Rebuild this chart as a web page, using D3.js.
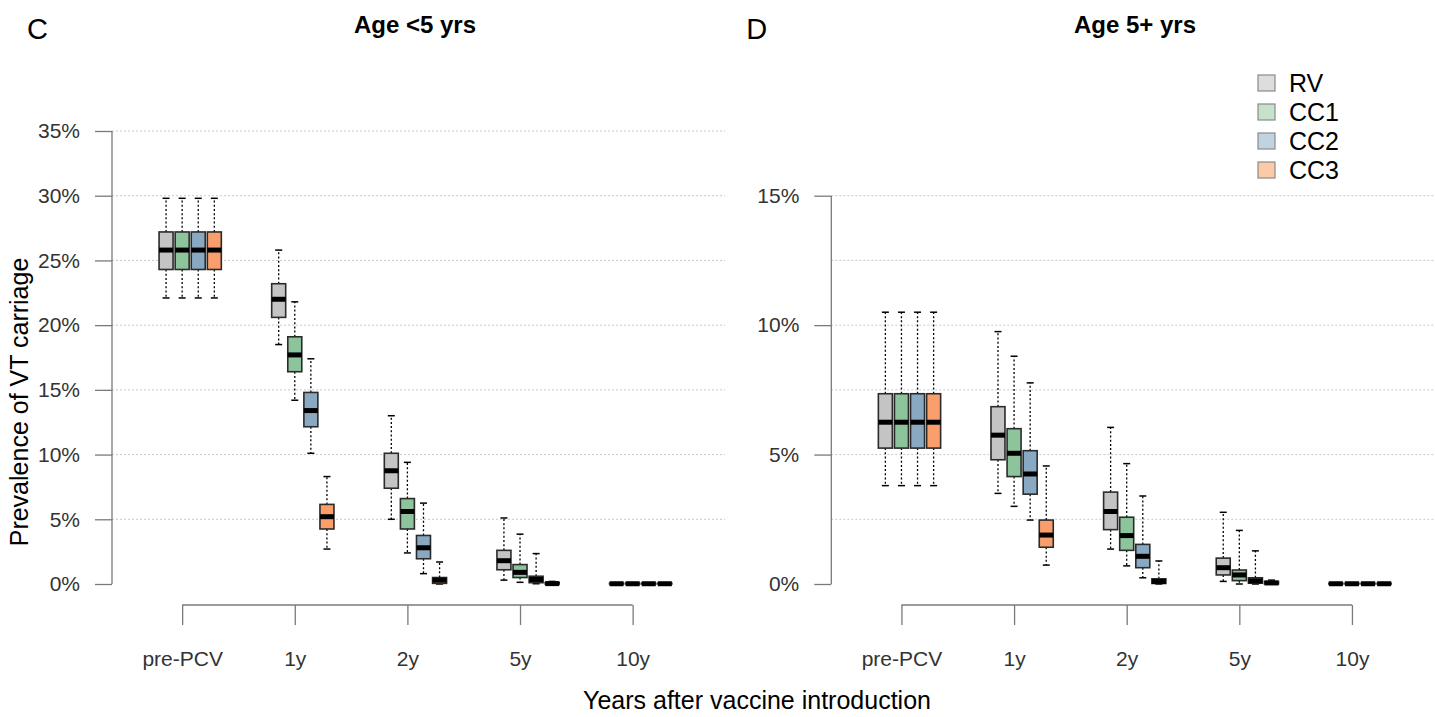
<!DOCTYPE html>
<html>
<head>
<meta charset="utf-8">
<script src="https://cdn.jsdelivr.net/npm/d3@7"></script>
<style>
    body { margin: 0; background: #fff; }
    svg { display: block; font-family: "Liberation Sans", Arial, sans-serif; }
</style>
</head>
<body>
<div id="chart"></div>
<script>
// categories
var groups = ["pre-PCV", "1y", "2y", "5y", "10y"];
var series = ["RV", "CC1", "CC2", "CC3"];
var boxFill = ["#c4c4c4", "#8dc49b", "#89a9c2", "#fa9f6b"];
var legendFill = ["#dddddd", "#c6e2cc", "#c0d3e0", "#fdcaa8"];

// five-number summaries per group: [whisker low, q1, median, q3, whisker high], in %
// Age <5 yrs
var u5RV  = [[22.1, 24.3, 25.8, 27.2, 29.8], [18.5, 20.6, 22.0, 23.2, 25.8], [5.0, 7.4, 8.75, 10.1, 13.0], [0.3, 1.1, 1.8, 2.6, 5.1], [0, 0, 0.02, 0.06, 0.1]];
var u5CC1 = [[22.1, 24.3, 25.8, 27.2, 29.8], [14.2, 16.4, 17.7, 19.1, 21.8], [2.4, 4.25, 5.6, 6.6, 9.4], [0.13, 0.5, 0.9, 1.5, 3.85], [0, 0, 0.02, 0.06, 0.1]];
var u5CC2 = [[22.1, 24.3, 25.8, 27.2, 29.8], [10.1, 12.15, 13.4, 14.8, 17.4], [0.8, 1.95, 2.8, 3.75, 6.25], [0.02, 0.1, 0.35, 0.6, 2.35], [0, 0, 0.02, 0.06, 0.1]];
var u5CC3 = [[22.1, 24.3, 25.8, 27.2, 29.8], [2.7, 4.25, 5.2, 6.15, 8.3], [0, 0.05, 0.3, 0.5, 1.7], [0, 0, 0.03, 0.12, 0.2], [0, 0, 0.02, 0.06, 0.1]];

// Age 5+ yrs
var o5RV  = [[3.8, 5.25, 6.25, 7.35, 10.5], [3.5, 4.8, 5.75, 6.85, 9.75], [1.35, 2.1, 2.8, 3.55, 6.05], [0.1, 0.35, 0.63, 1.0, 2.77], [0, 0, 0.01, 0.03, 0.05]];
var o5CC1 = [[3.8, 5.25, 6.25, 7.35, 10.5], [3.0, 4.15, 5.05, 6.0, 8.8], [0.7, 1.3, 1.87, 2.58, 4.65], [0, 0.13, 0.35, 0.54, 2.07], [0, 0, 0.01, 0.03, 0.05]];
var o5CC2 = [[3.8, 5.25, 6.25, 7.35, 10.5], [2.47, 3.47, 4.25, 5.15, 7.77], [0.24, 0.63, 1.07, 1.53, 3.4], [0, 0.03, 0.12, 0.24, 1.28], [0, 0, 0.01, 0.03, 0.05]];
var o5CC3 = [[3.8, 5.25, 6.25, 7.35, 10.5], [0.73, 1.42, 1.89, 2.47, 4.56], [0, 0.02, 0.1, 0.2, 0.89], [0, 0, 0.04, 0.1, 0.15], [0, 0, 0.01, 0.03, 0.05]];

// tick labels
var u5Ticks = [0, 5, 10, 15, 20, 25, 30, 35];
var u5Grid = [5, 10, 15, 20, 25, 30, 35];
var o5Ticks = [0, 5, 10, 15];
var o5Grid = [2.5, 5, 7.5, 10, 12.5, 15];

var width = 1435, height = 717;
var top_ = 131, bottom = 584, axisY = 605;

var svg = d3.select("#chart").append("svg")
    .attr("width", width)
    .attr("height", height);

function makePanel(opt) {
    var g = svg.append("g");

    // positions: group i, series k -> i*7 + k ; tick sits on the CC1 box
    var x = d3.scaleLinear()
        .domain([-3.36, 34.74])
        .range([opt.left, opt.left + 613]);
    var y = d3.scaleLinear()
        .domain([0, opt.ymax])
        .range([bottom, top_]);

    // grid
    g.append("g").selectAll("line")
        .data(opt.grid)
        .enter().append("line")
        .attr("x1", opt.left).attr("x2", Math.min(opt.left + 613, width))
        .attr("y1", d => y(d)).attr("y2", d => y(d))
        .attr("stroke", "#c9c9c9")
        .attr("stroke-width", 1)
        .attr("stroke-dasharray", "2,2");

    // y axis
    var gy = g.append("g")
        .attr("transform", `translate(${opt.left},0)`)
        .call(d3.axisLeft(y)
            .tickValues(opt.ticks)
            .tickFormat(d => d + "%")
            .tickSize(17)
            .tickPadding(15));
    gy.select(".domain").remove();
    gy.selectAll(".tick line").attr("stroke", "#7a7a7a").attr("stroke-width", 1.3);
    gy.selectAll(".tick text")
        .attr("fill", "#333")
        .style("font-size", "21px")
        .style("font-family", "Liberation Sans, Arial, sans-serif");
    g.append("line")
        .attr("x1", opt.left).attr("x2", opt.left)
        .attr("y1", y(opt.ticks[0])).attr("y2", y(opt.ticks[opt.ticks.length - 1]))
        .attr("stroke", "#7a7a7a").attr("stroke-width", 1.3);

    // x axis
    var tickPos = groups.map((d, i) => i * 7 + 1);
    var gx = g.append("g")
        .attr("transform", `translate(0,${axisY})`)
        .call(d3.axisBottom(x)
            .tickValues(tickPos)
            .tickFormat((d, i) => groups[i])
            .tickSize(20)
            .tickPadding(26));
    gx.select(".domain").remove();
    gx.selectAll(".tick line").attr("stroke", "#7a7a7a").attr("stroke-width", 1.3);
    gx.selectAll(".tick text")
        .attr("fill", "#333")
        .style("font-size", "21px")
        .style("font-family", "Liberation Sans, Arial, sans-serif");
    g.append("line")
        .attr("x1", x(tickPos[0])).attr("x2", x(tickPos[tickPos.length - 1]))
        .attr("y1", axisY).attr("y2", axisY)
        .attr("stroke", "#7a7a7a").attr("stroke-width", 1.3);

    // boxes
    var bw = (x(1) - x(0)) * 0.87;
    var items = [];
    opt.data.forEach(function (arr, k) {
        arr.forEach(function (s, i) {
            items.push({ k: k, pos: i * 7 + k, s: s });
        });
    });

    var box = g.append("g").selectAll("g")
        .data(items)
        .enter().append("g");

    // whiskers
    box.append("line")
        .attr("x1", d => x(d.pos)).attr("x2", d => x(d.pos))
        .attr("y1", d => y(d.s[3])).attr("y2", d => y(d.s[4]))
        .attr("stroke", "#000").attr("stroke-width", 1.3)
        .attr("stroke-dasharray", "2,2.2");
    box.append("line")
        .attr("x1", d => x(d.pos)).attr("x2", d => x(d.pos))
        .attr("y1", d => y(d.s[1])).attr("y2", d => y(d.s[0]))
        .attr("stroke", "#000").attr("stroke-width", 1.3)
        .attr("stroke-dasharray", "2,2.2");
    // staples
    [0, 4].forEach(function (j) {
        box.append("line")
            .attr("x1", d => x(d.pos) - bw / 4).attr("x2", d => x(d.pos) + bw / 4)
            .attr("y1", d => y(d.s[j])).attr("y2", d => y(d.s[j]))
            .attr("stroke", "#000").attr("stroke-width", 1.5);
    });
    box.append("rect")
        .attr("x", d => x(d.pos) - bw / 2)
        .attr("width", bw)
        .attr("y", d => y(d.s[3]))
        .attr("height", d => Math.max(0.5, y(d.s[1]) - y(d.s[3])))
        .attr("fill", d => boxFill[d.k])
        .attr("stroke", "#2b2b2b")
        .attr("stroke-width", 1.6);
    box.append("line")
        .attr("x1", d => x(d.pos) - bw / 2).attr("x2", d => x(d.pos) + bw / 2)
        .attr("y1", d => y(d.s[2])).attr("y2", d => y(d.s[2]))
        .attr("stroke", "#000").attr("stroke-width", 5);

    // panel letter and title
    svg.append("text")
        .attr("x", opt.left - 85).attr("y", 39)
        .style("font-size", "29px")
        .text(opt.letter);
    svg.append("text")
        .attr("x", opt.titleX).attr("y", 33)
        .attr("text-anchor", "middle")
        .style("font-size", "24px")
        .style("font-weight", "bold")
        .text(opt.title);
}

makePanel({
    left: 112, ymax: 35, ticks: u5Ticks, grid: u5Grid,
    data: [u5RV, u5CC1, u5CC2, u5CC3],
    letter: "C", title: "Age <5 yrs", titleX: 415
});
makePanel({
    left: 831.3, ymax: 17.5, ticks: o5Ticks, grid: o5Grid,
    data: [o5RV, o5CC1, o5CC2, o5CC3],
    letter: "D", title: "Age 5+ yrs", titleX: 1135
});

// legend
var legend = svg.append("g").selectAll("g")
    .data(series)
    .enter().append("g")
    .attr("transform", (d, i) => `translate(1258,${83 + i * 29})`);
legend.append("rect")
    .attr("x", 0).attr("y", -8)
    .attr("width", 17).attr("height", 16)
    .attr("fill", (d, i) => legendFill[i])
    .attr("stroke", "#8a8a8a")
    .attr("stroke-width", 1.2);
legend.append("text")
    .attr("x", 31).attr("y", 9)
    .style("font-size", "25px")
    .text(d => d);

// axis titles
svg.append("text")
    .attr("transform", "translate(28,402) rotate(-90)")
    .attr("text-anchor", "middle")
    .style("font-size", "25px")
    .text("Prevalence of VT carriage");
svg.append("text")
    .attr("x", 757).attr("y", 709)
    .attr("text-anchor", "middle")
    .style("font-size", "25px")
    .text("Years after vaccine introduction");
</script>
</body>
</html>
